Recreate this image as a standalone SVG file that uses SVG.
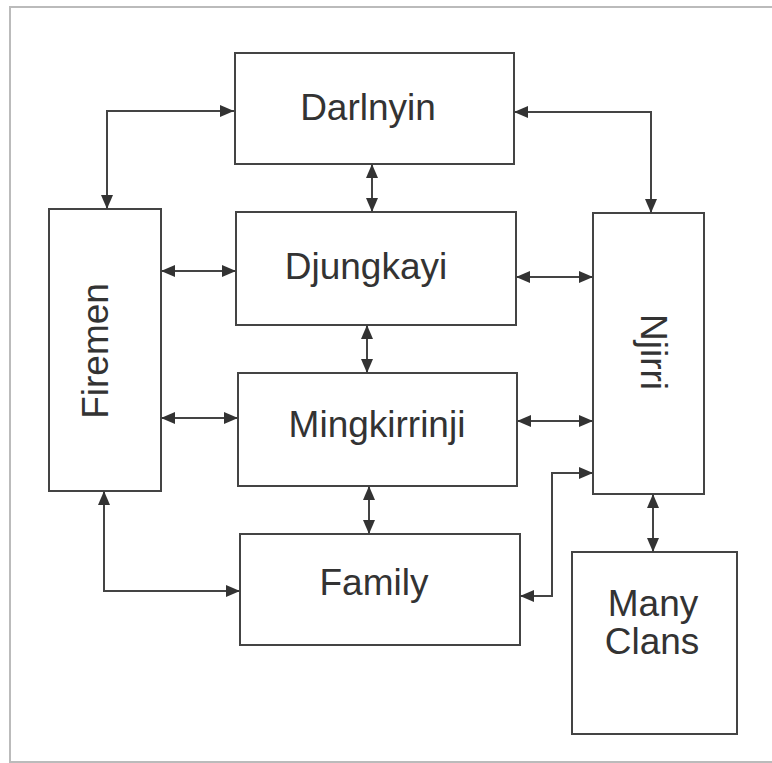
<svg xmlns="http://www.w3.org/2000/svg" width="772" height="763" viewBox="0 0 772 763">
<style>
.box{fill:#fff;stroke:#444;stroke-width:2}
.lbl{font-family:"Liberation Sans",Arial,sans-serif;font-size:37px;fill:#333}
.con{fill:none;stroke:#444;stroke-width:2;marker-start:url(#ah);marker-end:url(#ah)}
.frame{stroke:#bbb;stroke-width:2;fill:none}
</style>
<defs>
<marker id="ah" markerUnits="userSpaceOnUse" markerWidth="14" markerHeight="12" viewBox="0 0 14 12" refX="14" refY="6" orient="auto-start-reverse">
<path d="M0,0 L14,6 L0,12 z" fill="#333"/>
</marker>
</defs>
<rect width="772" height="763" fill="#fff"/>
<path class="frame" d="M772,7 L10,7 L10,762 L772,762"/>
<g id="darlnyin"><rect class="box" x="235" y="53" width="279" height="111"/><text class="lbl" x="368" y="120" text-anchor="middle">Darlnyin</text></g>
<g id="djungkayi"><rect class="box" x="236" y="212" width="280" height="113"/><text class="lbl" x="366" y="279" text-anchor="middle">Djungkayi</text></g>
<g id="mingkirrinji"><rect class="box" x="238" y="373" width="279" height="113"/><text class="lbl" x="377" y="437" text-anchor="middle">Mingkirrinji</text></g>
<g id="family"><rect class="box" x="240" y="534" width="280" height="111"/><text class="lbl" x="374" y="595" text-anchor="middle">Family</text></g>
<g id="firemen"><rect class="box" x="49" y="209" width="112" height="282"/><text class="lbl" transform="translate(108,351) rotate(-90)" text-anchor="middle">Firemen</text></g>
<g id="njirri"><rect class="box" x="593" y="213" width="111" height="281"/><text class="lbl" transform="translate(641,352) rotate(90)" text-anchor="middle">Njirri</text></g>
<g id="manyclans"><rect class="box" x="572" y="552" width="165" height="182"/><text class="lbl" x="653" y="616" text-anchor="middle">Many</text><text class="lbl" x="652" y="654" text-anchor="middle">Clans</text></g>
<g id="connectors">
<path class="con" d="M107,209 L107,111 L234,111"/>
<path class="con" d="M514,112 L651,112 L651,213"/>
<path class="con" d="M372,164 L372,212"/>
<path class="con" d="M367,325 L367,373"/>
<path class="con" d="M369,486 L369,534"/>
<path class="con" d="M161,271 L236,271"/>
<path class="con" d="M161,418 L238,418"/>
<path class="con" d="M516,277 L593,277"/>
<path class="con" d="M517,421 L593,421"/>
<path class="con" d="M520,596 L552,596 L552,473 L593,473"/>
<path class="con" d="M653,494 L653,552"/>
<path class="con" d="M104,491 L104,591 L240,591"/>
</g>
</svg>
